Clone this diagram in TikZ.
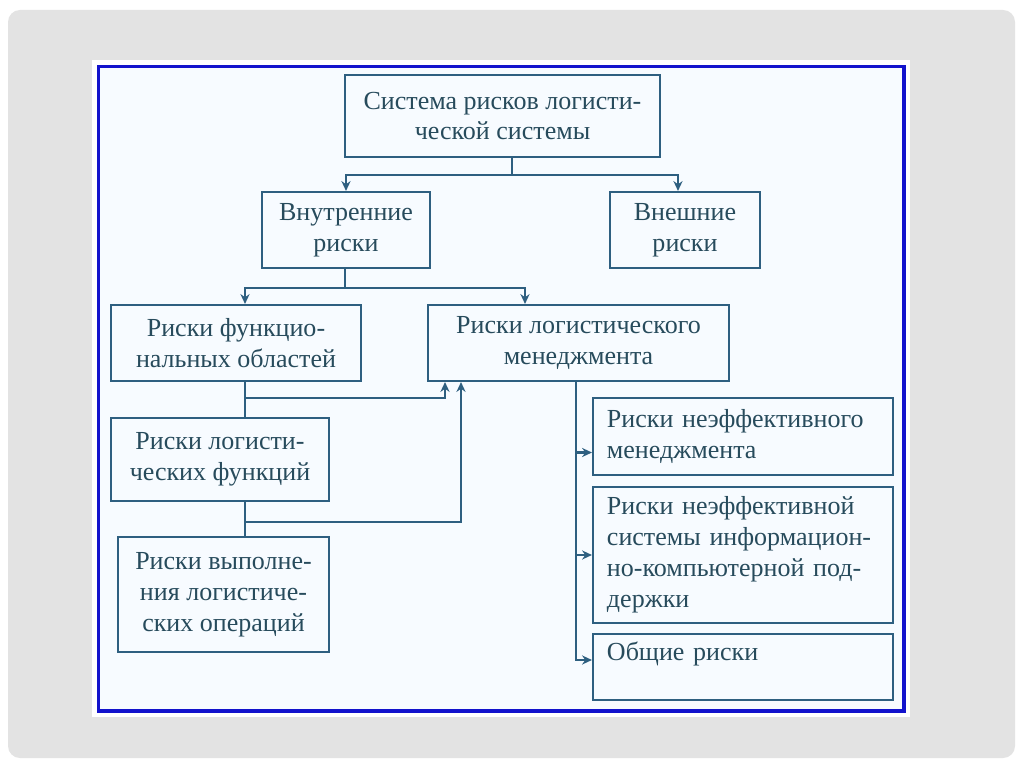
\documentclass[tikz,border=0pt]{standalone}
\usepackage{fontspec}
\setmainfont{Liberation Serif}
\usepackage{xcolor}
\usepackage{tikz}
\usetikzlibrary{
    arrows.meta
}
\definecolor{slidegrey}{HTML}{E3E3E3}
\definecolor{framebg}{HTML}{F7FBFF}
\definecolor{frameblue}{HTML}{1212CC}
\definecolor{boxline}{HTML}{2E5F80}
\definecolor{boxtext}{HTML}{274B5C}

\tikzset{
    riskbox/.style={draw=boxline, line width=1.5pt, text=boxtext, align=center, inner sep=0pt,
        font=\fontsize{18.5}{22}\selectfont},
    leftbox/.style={riskbox, align=left, text width=6.8cm},
    link/.style={draw=boxline, line width=1.5pt},
    arr/.style={link, -{Stealth[length=7pt,width=6.5pt]}}
}

\begin{document}
\begin{tikzpicture}[x=0.025cm, y=-0.025cm]
        \useasboundingbox (0,0) rectangle (1024,767);
        \fill [white] (0,0) rectangle (1024,767);
        \fill [slidegrey, rounded corners=0.3cm] (8,10) rectangle (1015,758);
        \fill [white] (92,60) rectangle (910,717);
        \filldraw [fill=framebg, draw=frameblue, line width=2.5pt] (98.5,66.5) rectangle (904,711);

        \node[riskbox, minimum width=7.875cm, minimum height=2.05cm] (sys) at (502.5,116) {Система рисков логисти-\\ческой системы};
        \node[riskbox, minimum width=4.2cm, minimum height=1.9cm] (inner) at (346,230) {Внутренние\\риски};
        \node[riskbox, minimum width=3.75cm, minimum height=1.9cm] (outer) at (685,230) {Внешние\\риски};
        \node[riskbox, minimum width=6.25cm, minimum height=1.9cm] (func) at (236,343) {Риски функцио-\\нальных областей};
        \node[riskbox, minimum width=7.525cm, minimum height=1.9cm] (logm) at (578.5,343) {Риски логистического\\менеджмента};
        \node[riskbox, minimum width=5.45cm, minimum height=2.075cm] (logf) at (220,459.5) {Риски логисти-\\ческих функций};
        \node[riskbox, minimum width=5.275cm, minimum height=2.875cm] (exec) at (223.5,594.5) {Риски выполне-\\ния логистиче-\\ских операций};
        \node[leftbox, minimum width=7.5cm, minimum height=1.925cm] (ineffm) at (743,436.5) {Риски неэффективного\\менеджмента};
        \node[leftbox, minimum width=7.5cm, minimum height=3.4cm] (ineffs) at (743,555) {Риски неэффективной\\системы информацион-\\но-компьютерной под-\\держки};
        \node[leftbox, minimum width=7.5cm, minimum height=1.65cm] (common) at (743,667) {Общие риски\\~};

        % junctions of the buses
        \coordinate (s1) at (512,175);
        \coordinate (s2) at (345,288);
        \coordinate (j1) at (245,398);
        \coordinate (j2) at (245,522);
        \coordinate (a1) at (445,0);
        \coordinate (a2) at (461,0);
        \coordinate (v) at (576,0);
        \coordinate (c1) at (678,0);
        \coordinate (c2) at (525,0);

        \draw[link] (sys.south -| s1) -- (s1);
        \draw[arr] (s1) -| (inner.north);
        \draw[arr] (s1) -| (outer.north -| c1);
        \draw[link] (inner.south -| s2) -- (s2);
        \draw[arr] (s2) -| (func.north -| j1);
        \draw[arr] (s2) -| (logm.north -| c2);
        \draw[link] (func.south -| j1) -- (logf.north -| j1);
        \draw[link] (logf.south -| j2) -- (exec.north -| j2);
        \draw[arr] (j1) -| (logm.south -| a1);
        \draw[arr] (j2) -| (logm.south -| a2);
        \draw[arr] (logm.south -| v) |- ([yshift=-0.4cm]ineffm.west);
        \draw[arr] (logm.south -| v) |- (ineffs.west);
        \draw[arr] (logm.south -| v) |- ([yshift=0.175cm]common.west);
    \end{tikzpicture}
\end{document}
